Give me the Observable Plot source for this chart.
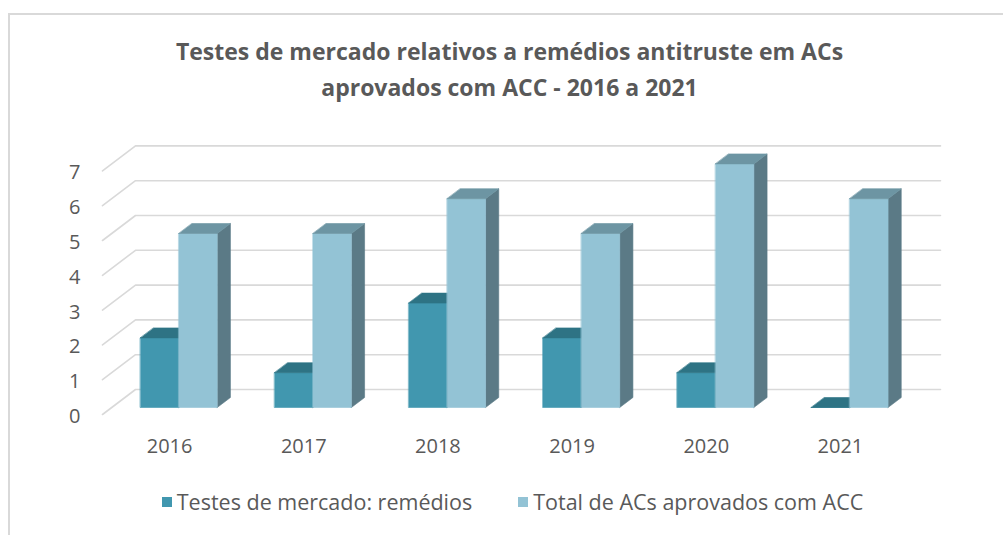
<!DOCTYPE html>
<html>
<head>
<meta charset="utf-8">
<script src="https://cdn.jsdelivr.net/npm/d3@7"></script>
<script src="https://cdn.jsdelivr.net/npm/@observablehq/plot@0.6"></script>
<style>
html, body { margin: 0; padding: 0; overflow: hidden; background: #fff; width: 1003px; height: 535px; }
body { position: relative; font-family: "Open Sans", sans-serif; color: #595959; }
#frame { position: absolute; left: 8px; top: 13px; width: 1100px; height: 600px; border-left: 2px solid #D9D9D9; border-top: 2px solid #D9D9D9; }
#title { position: absolute; left: 8px; width: 1003px; top: 33px; text-align: center; font-weight: 700; font-size: 23px; line-height: 36px; color: #595959; }
#chart { position: absolute; left: 0; top: 120px; }
#legend { position: absolute; top: 488px; left: 11px; width: 1003px; display: flex; justify-content: center; gap: 46px; font-size: 21.5px; line-height: 28px; color: #595959; }
.item { display: flex; align-items: center; gap: 5px; }
.sw { width: 10px; height: 10px; display: inline-block; }
</style>
</head>
<body>
<div id="frame"></div>
<div id="title">Testes de mercado relativos a remédios antitruste em ACs<br>aprovados com ACC - 2016 a 2021</div>
<div id="chart"></div>
<div id="legend"></div>
<script>
// ---- data ----
const years = ["2016", "2017", "2018", "2019", "2020", "2021"];
const testesMercado = [2, 1, 3, 2, 1, 0];
const totalACs = [5, 5, 6, 5, 7, 6];
const yTicks = [0, 1, 2, 3, 4, 5, 6, 7];
const seriesNames = ["Testes de mercado: remédios", "Total de ACs aprovados com ACC"];
const seriesColors = {
  front: ["#4197AF", "#93C3D5"],
  top: ["#2E7384", "#6D95A3"],
  side: ["#2A6676", "#5B7A86"]
};

// ---- geometry (pseudo-3D projection) ----
const W = 1003, H = 345;
const mL = 102, mR = 96, mT = 50.4, mB = 51;
const pxPerCat = (W - mL - mR) / years.length;
const pxPerVal = (H - mT - mB) / 7;
const depthDX = 33, depthDY = 25;          // full-depth offset in px
const dxu = depthDX / pxPerCat, dyu = depthDY / pxPerVal;
const f0 = 0.28, f1 = 0.68;                // bar depth slice
const halfW = 38.4 / pxPerCat;
const P = (x, v, f) => ({x: x + f * dxu, y: v + f * dyu});

// gridlines (side wall diagonal + back wall horizontal)
const grid = [];
yTicks.forEach(t => {
  [P(0, t, 0), P(0, t, 1), P(years.length, t, 1)].forEach(p => grid.push({...p, z: t}));
});

// bar faces
function faces(values, s) {
  const out = {front: [], top: [], side: []};
  values.forEach((v, i) => {
    const c = i + 0.5;
    const x0 = s === 0 ? c - halfW : c;
    const x1 = s === 0 ? c : c + halfW;
    const id = years[i] + "-" + s;
    [P(x0, 0, f0), P(x1, 0, f0), P(x1, v, f0), P(x0, v, f0)].forEach(p => out.front.push({...p, id}));
    [P(x0, v, f0), P(x1, v, f0), P(x1, v, f1), P(x0, v, f1)].forEach(p => out.top.push({...p, id}));
    [P(x1, 0, f0), P(x1, 0, f1), P(x1, v, f1), P(x1, v, f0)].forEach(p => out.side.push({...p, id}));
  });
  return out;
}
const fa = faces(testesMercado, 0);
const fb = faces(totalACs, 1);

function faceMarks(f, s) {
  return ["side", "front", "top"].map(k =>
    Plot.line(f[k], {x: "x", y: "y", z: "id", curve: "linear-closed",
      fill: seriesColors[k][s], stroke: seriesColors[k][s], strokeWidth: 0.6}));
}

const chart = Plot.plot({
  width: W, height: H,
  marginLeft: mL, marginRight: mR, marginTop: mT, marginBottom: mB,
  x: {domain: [0, years.length], axis: null},
  y: {domain: [0, 7], axis: null},
  style: {fontFamily: "Open Sans, sans-serif", color: "#595959", background: "transparent", overflow: "visible"},
  marks: [
    Plot.line(grid, {x: "x", y: "y", z: "z", stroke: "#D9D9D9", strokeWidth: 1.6}),
    ...faceMarks(fa, 0),
    ...faceMarks(fb, 1),
    Plot.axisY(yTicks, {tickSize: 0, tickPadding: 22, fontSize: 20, dy: 2, fill: "#595959", label: null}),
    Plot.axisX(years.map((d, i) => i + 0.5), {tickSize: 0, tickPadding: 24.5, fontSize: 20, fill: "#595959", label: null,
      tickFormat: d => years[Math.floor(d)]})
  ]
});
document.getElementById("chart").appendChild(chart);

// legend
const leg = document.getElementById("legend");
seriesNames.forEach((n, s) => {
  const it = document.createElement("div");
  it.className = "item";
  it.innerHTML = `<span class="sw" style="background:${seriesColors.front[s]}"></span><span>${n}</span>`;
  leg.appendChild(it);
});
</script>
</body>
</html>
